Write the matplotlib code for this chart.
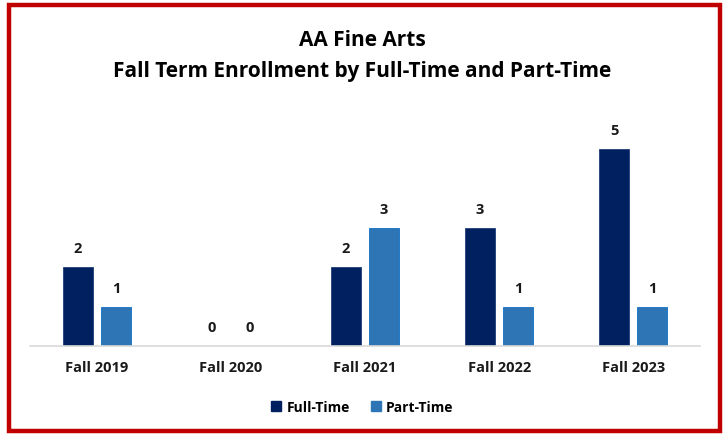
import matplotlib
matplotlib.use("Agg")
import matplotlib.pyplot as plt
from matplotlib.patches import Rectangle, Patch
import numpy as np

terms = ["Fall 2019", "Fall 2020", "Fall 2021", "Fall 2022", "Fall 2023"]
full_time = [2, 0, 2, 3, 5]
part_time = [1, 0, 3, 1, 1]

navy = "#002060"
blue = "#2E75B6"

plt.rcParams['font.family'] = ['Open Sans', 'DejaVu Sans']

fig = plt.figure(figsize=(7.25, 4.35), dpi=100)
ax = fig.add_axes([0.041, 0.202, 0.925, 0.545])

x = np.arange(len(terms))
w = 0.225
gap = 0.03
b1 = ax.bar(x - w/2 - gap, full_time, w, color=navy, edgecolor="#1F3F7A", linewidth=0.6, label="Full-Time")
b2 = ax.bar(x + w/2 + gap, part_time, w, color=blue, edgecolor="#1070C8", linewidth=0.6, label="Part-Time")

# value labels above each bar
for bars in (b1, b2):
    for r in bars:
        ax.text(r.get_x() + r.get_width()/2, r.get_height() + 0.3, str(int(r.get_height())),
                ha="center", va="bottom", fontsize=10.5, fontweight="bold", color="#1A1A1A")

ax.set_xlim(-0.5, len(terms) - 0.5)
ax.set_ylim(0, 6)
ax.set_yticks([])
ax.set_xticks(x)
ax.set_xticklabels(terms, fontsize=10.5, fontweight="bold", color="#1A1A1A")
ax.tick_params(axis="x", length=0, pad=10)
for s in ["top", "right", "left"]:
    ax.spines[s].set_visible(False)
ax.spines["bottom"].set_color("#D9D9D9")
ax.spines["bottom"].set_linewidth(1.2)

fig.text(0.5, 0.908, "AA Fine Arts", ha="center", va="center", fontsize=15, fontweight="bold")
fig.text(0.5, 0.835, "Fall Term Enrollment by Full-Time and Part-Time", ha="center", va="center",
         fontsize=15, fontweight="bold")

handles = [Patch(color=navy, label="Full-Time"), Patch(color=blue, label="Part-Time")]
fig.legend(handles=handles, loc="center", bbox_to_anchor=(0.5, 0.062), ncol=2, frameon=False,
           prop={"size": 10, "weight": "bold"}, handlelength=0.7, handleheight=0.7,
           handletextpad=0.4, columnspacing=1.5)

fig.patches.append(Rectangle((0.0125, 0.008), 0.98, 0.978, transform=fig.transFigure,
                             fill=False, edgecolor="#C00000", linewidth=3.2))

fig.savefig("out.png", dpi=100)
